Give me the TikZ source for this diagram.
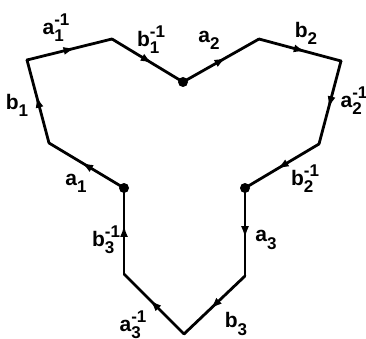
\documentclass[tikz,border=0pt]{standalone}
\usepackage{fontspec}
\setmainfont{Liberation Sans}
\usetikzlibrary{arrows.meta,decorations.markings}
\newcommand\scr[1]{{\fontsize{17}{17}\selectfont #1}}
\newcommand\lsub[2]{#1\raisebox{-0.34em}{\scr{#2}}}
\newcommand\lsubsup[3]{#1\rlap{\raisebox{-0.34em}{\scr{#2}}}\raisebox{0.42em}{\scr{#3}}}
\tikzset{
  edge/.style={line width=2.8pt, line cap=round, postaction={decorate},
    decoration={markings, mark=at position 0.57 with {\arrow{Latex[length=12pt,width=8pt]}}}},
  dot/.style={circle, fill=black, inner sep=0pt, minimum size=10pt},
  lab/.style={inner sep=0pt, font=\fontsize{21}{21}\selectfont\bfseries}
}
\begin{document}
\begin{tikzpicture}[x=1pt,y=-1pt]
\useasboundingbox (0,0) rectangle (366,339);
% vertices
\coordinate (t2) at (259,39);
\coordinate (r1) at (341,61);
\coordinate (r2) at (319,144);
\coordinate (d1) at (245,276);
\coordinate (bt) at (184,334);
\coordinate (d2) at (124,274);
\coordinate (l1) at (49,143);
\coordinate (l2) at (27,60);
\coordinate (t1) at (112,39);
\node[dot] (c0) at (183,82) {};
\node[dot] (c1) at (245,188) {};
\node[dot] (c2) at (124,188) {};
% edges
\draw[edge] (c0.center) -- (t2);
\draw[edge] (t2) -- (r1);
\draw[edge] (r1) -- (r2);
\draw[edge] (r2) -- (c1.center);
\draw[edge] (c1.center) -- (d1);
\draw[edge] (d1) -- (bt);
\draw[edge] (bt) -- (d2);
\draw[edge] (d2) -- (c2.center);
\draw[edge] (c2.center) -- (l1);
\draw[edge] (l1) -- (l2);
\draw[edge] (l2) -- (t1);
\draw[edge] (t1) -- (c0.center);
% labels
\node[lab] (La1i) at (56,28) {\lsubsup{a}{1}{-1}};
\node[lab] (Lb1i) at (151,40) {\lsubsup{b}{1}{-1}};
\node[lab] (Lb1) at (17,105) {\lsub{b}{1}};
\node[lab] (La1) at (76,183) {\lsub{a}{1}};
\node[lab] (La2) at (209,40) {\lsub{a}{2}};
\node[lab] (Lb2) at (306,33) {\lsub{b}{2}};
\node[lab] (La2i) at (354,101) {\lsubsup{a}{2}{-1}};
\node[lab] (Lb2i) at (305,179) {\lsubsup{b}{2}{-1}};
\node[lab] (La3) at (266,240) {\lsub{a}{3}};
\node[lab] (Lb3) at (236,324) {\lsub{b}{3}};
\node[lab] (La3i) at (133,325) {\lsubsup{a}{3}{-1}};
\node[lab] (Lb3i) at (106,240) {\lsubsup{b}{3}{-1}};
\end{tikzpicture}
\end{document}
